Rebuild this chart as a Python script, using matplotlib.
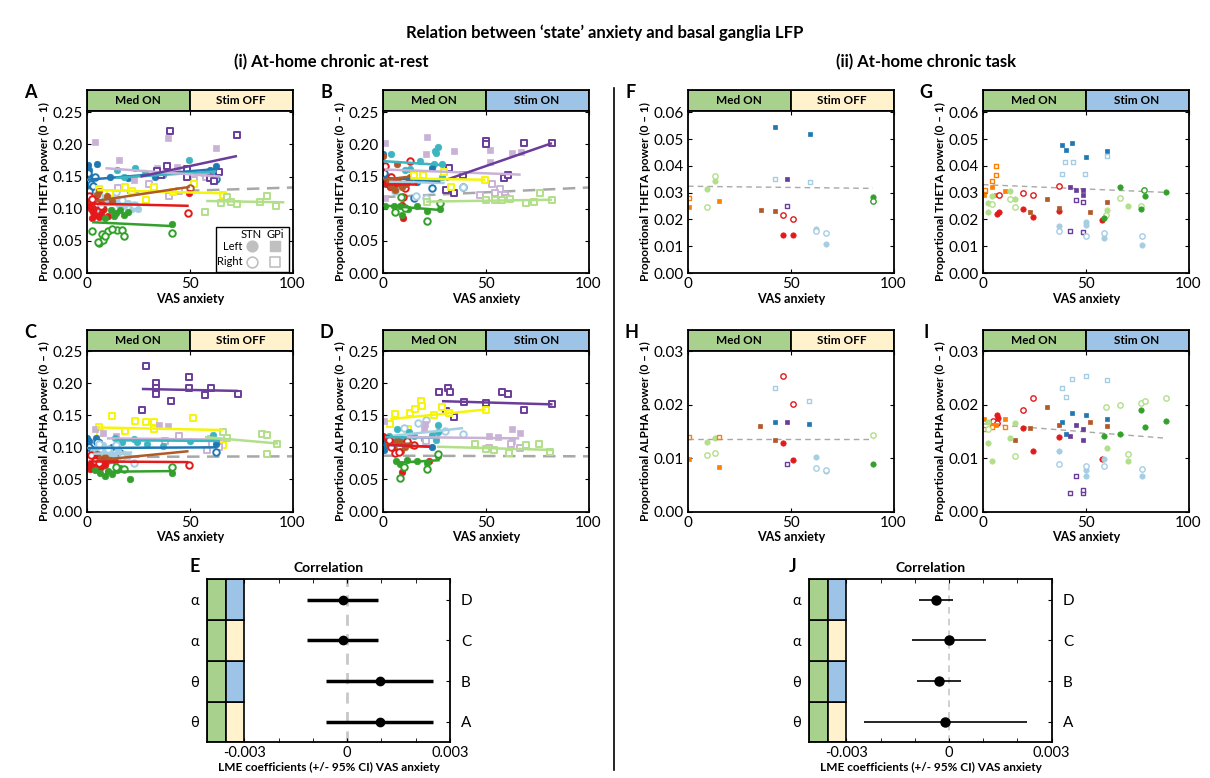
import matplotlib.pyplot as plt
from matplotlib.lines import Line2D
import numpy as np

plt.rcParams['font.family'] = ['Lato', 'DejaVu Sans']

W, H = 1210, 778

PALETTE = {
    'blue': '#1f78b4', 'lblue': '#a6cee3', 'teal': '#3bb5c0',
    'purple': '#6a3d9a', 'lpurple': '#cab2d6', 'yellow': '#f5f50a',
    'brown': '#b15928', 'red': '#e31a1c', 'green': '#33a02c',
    'lgreen': '#b2df8a', 'orange': '#ff7f00',
}
MED_ON = '#a9d18e'
STIM_OFF = '#fff2cc'
STIM_ON = '#9dc3e6'

# ---- (i) at-rest, theta, stim OFF ----
A_pts = [
    ('blue', 'Lc', [0.5, 1, 2, 0.3, 1.5, 5, 11, 20, 33, 58, 60, 63], [0.168, 0.160, 0.150, 0.140, 0.132, 0.170, 0.150, 0.148, 0.150, 0.152, 0.160, 0.166]),
    ('blue', 'Rc', [0.5, 1, 2, 4, 0.2, 1, 3, 63], [0.155, 0.145, 0.138, 0.150, 0.121, 0.128, 0.135, 0.147]),
    ('teal', 'Lc', [14.5, 23.5, 37, 49.5, 28, 18, 62], [0.161, 0.163, 0.152, 0.176, 0.155, 0.150, 0.158]),
    ('lblue', 'Lc', [5, 8, 10, 13, 15, 18, 22, 25, 12, 9, 16, 20, 7], [0.100, 0.105, 0.110, 0.112, 0.108, 0.104, 0.100, 0.099, 0.098, 0.114, 0.115, 0.109, 0.118]),
    ('lblue', 'Rc', [6, 11, 17, 23, 14], [0.118, 0.122, 0.113, 0.106, 0.126]),
    ('lpurple', 'Ls', [4, 15.5, 39.5, 63, 34, 44, 57, 23], [0.204, 0.176, 0.210, 0.194, 0.163, 0.165, 0.155, 0.145]),
    ('lpurple', 'Rs', [15, 30, 40, 52, 58, 45], [0.132, 0.138, 0.120, 0.145, 0.150, 0.128]),
    ('purple', 'Rs', [40.5, 73, 34, 48.5, 48.5, 60, 62, 64, 39, 36], [0.221, 0.214, 0.158, 0.162, 0.150, 0.148, 0.143, 0.157, 0.166, 0.152]),
    ('yellow', 'Rs', [6, 18.5, 28.5, 32.5, 52, 66, 11, 42, 22], [0.130, 0.134, 0.113, 0.134, 0.139, 0.121, 0.124, 0.126, 0.128]),
    ('brown', 'Lc', [5, 9.5, 7.5, 4, 12, 3, 6], [0.121, 0.120, 0.108, 0.103, 0.112, 0.115, 0.128]),
    ('brown', 'Rc', [2, 8, 50], [0.110, 0.100, 0.132]),
    ('red', 'Lc', [1, 2, 3, 4, 5, 6, 7, 8, 2.5, 4.5, 10, 49.5, 1.5, 3], [0.105, 0.100, 0.095, 0.090, 0.108, 0.087, 0.092, 0.100, 0.085, 0.112, 0.088, 0.124, 0.115, 0.098]),
    ('red', 'Rc', [1, 2.5, 5, 7, 49], [0.120, 0.115, 0.108, 0.104, 0.093]),
    ('green', 'Lc', [11.5, 16, 14, 13, 18, 9, 41.5, 20], [0.098, 0.098, 0.093, 0.088, 0.090, 0.085, 0.076, 0.095]),
    ('green', 'Rc', [2.5, 7.5, 6, 8, 5.5, 10, 14.5, 17, 18, 41.5, 12, 9], [0.065, 0.060, 0.046, 0.052, 0.048, 0.065, 0.067, 0.067, 0.058, 0.062, 0.068, 0.057]),
    ('lgreen', 'Rs', [57.5, 68, 73, 84, 87.5, 92, 65, 70], [0.095, 0.118, 0.107, 0.111, 0.120, 0.105, 0.109, 0.110]),
]
A_fits = [
    ('lblue', 5, 25, 0.105, 0.109), ('blue', 0, 64, 0.145, 0.162), ('teal', 14, 63, 0.148, 0.158),
    ('lpurple', 9, 65, 0.163, 0.150), ('purple', 26, 73, 0.150, 0.182), ('yellow', 5, 66, 0.129, 0.124),
    ('brown', 4, 50, 0.112, 0.134), ('red', 1.5, 49.5, 0.108, 0.1045), ('green', 2.5, 41.5, 0.079, 0.073),
    ('lgreen', 58, 96, 0.112, 0.110),
]
A_pop = (0, 100, 0.123, 0.133)

# ---- (i) at-rest, theta, stim ON ----
B_pts = [
    ('lpurple', 'Ls', [0.8, 21.4, 21, 34.4, 51.9, 52.3, 63, 67, 1.1], [0.202, 0.211, 0.185, 0.190, 0.191, 0.173, 0.186, 0.188, 0.116]),
    ('lpurple', 'Rs', [53, 56.7, 59.5, 56, 60, 54.6, 47.3, 3], [0.139, 0.130, 0.122, 0.114, 0.116, 0.124, 0.122, 0.150]),
    ('purple', 'Rs', [50, 50, 68.7, 82, 58.7, 61, 30.8, 34.7, 31.9, 38.9], [0.206, 0.201, 0.203, 0.203, 0.148, 0.152, 0.129, 0.124, 0.163, 0.152]),
    ('teal', 'Lc', [3.9, 18, 25.4, 27, 26, 24.6, 28.7, 28.7, 10.5, 13], [0.185, 0.174, 0.190, 0.196, 0.187, 0.170, 0.170, 0.150, 0.160, 0.162]),
    ('blue', 'Lc', [0, 0.5, 23.8, 16.5, 2, 5], [0.185, 0.160, 0.164, 0.142, 0.150, 0.145]),
    ('blue', 'Rc', [0.3, 23.8, 38.9, 15, 1], [0.155, 0.132, 0.134, 0.116, 0.140]),
    ('lblue', 'Rc', [21, 39, 16, 6], [0.116, 0.134, 0.120, 0.128]),
    ('red', 'Rc', [13, 1.1, 10.9, 9.7, 4, 7], [0.174, 0.166, 0.132, 0.119, 0.150, 0.140]),
    ('red', 'Lc', [9.2, 9.7, 2, 3.6, 1, 6], [0.106, 0.086, 0.139, 0.134, 0.145, 0.140]),
    ('brown', 'Lc', [0, 6.8, 2.8, 6, 9.2, 12.5, 8, 11, 4, 13], [0.182, 0.169, 0.142, 0.129, 0.134, 0.145, 0.140, 0.138, 0.135, 0.150]),
    ('yellow', 'Rs', [15, 19.3, 33, 29.8, 49.8], [0.152, 0.153, 0.134, 0.157, 0.145]),
    ('green', 'Lc', [1.1, 5.2, 8.4, 16.5, 21.4, 27.9, 9.2, 12], [0.105, 0.105, 0.104, 0.105, 0.097, 0.099, 0.091, 0.100]),
    ('green', 'Rc', [10.9, 27.6, 21.4, 8.9, 6], [0.101, 0.109, 0.081, 0.119, 0.095]),
    ('lgreen', 'Rs', [21.4, 50, 54.6, 57.9, 61.9, 69.5, 73.7, 82.2, 76.5], [0.111, 0.114, 0.113, 0.113, 0.115, 0.109, 0.110, 0.113, 0.125]),
]
B_fits = [
    ('lblue', 3, 30, 0.142, 0.140), ('blue', 0, 28, 0.148, 0.143), ('teal', 0.3, 28.7, 0.174, 0.168),
    ('lpurple', 1, 67, 0.161, 0.153), ('purple', 30.8, 82.2, 0.145, 0.202), ('red', 0.3, 16.5, 0.139, 0.139),
    ('brown', 0.3, 13.3, 0.145, 0.150), ('yellow', 13.3, 49.8, 0.147, 0.145), ('green', 0.3, 27.9, 0.105, 0.098),
    ('lgreen', 21, 82.2, 0.111, 0.114),
]
B_pop = (0, 100, 0.118, 0.133)

# ---- (i) at-rest, alpha, stim OFF ----
C_pts = [
    ('purple', 'Rs', [28.6, 33.7, 33.7, 33.7, 40.8, 26.7, 49.7, 49.7, 60.2, 57.4, 73.3], [0.227, 0.201, 0.192, 0.183, 0.172, 0.158, 0.210, 0.193, 0.193, 0.181, 0.183]),
    ('yellow', 'Rs', [6, 12.1, 18.6, 23.5, 28.6, 32.4, 32.7, 51.8, 66.3, 6.5], [0.131, 0.149, 0.126, 0.141, 0.139, 0.140, 0.129, 0.145, 0.104, 0.122]),
    ('lpurple', 'Ls', [34.8, 39.6, 4, 8, 60, 63, 14], [0.135, 0.133, 0.128, 0.122, 0.115, 0.112, 0.118]),
    ('lpurple', 'Rs', [60.7, 58.3, 64, 38, 45], [0.106, 0.096, 0.100, 0.110, 0.118]),
    ('teal', 'Lc', [13.8, 22.7, 24.3, 37.2, 61.5, 17, 29, 50], [0.114, 0.113, 0.109, 0.102, 0.120, 0.108, 0.106, 0.110]),
    ('lgreen', 'Rs', [68, 85, 87.4, 92.7, 87.4, 66], [0.114, 0.121, 0.119, 0.106, 0.090, 0.124]),
    ('blue', 'Lc', [0, 0, 4.5, 12.1, 63, 1, 2, 6], [0.114, 0.106, 0.114, 0.101, 0.106, 0.110, 0.098, 0.108]),
    ('blue', 'Rc', [1, 5, 63, 16, 3], [0.101, 0.108, 0.092, 0.091, 0.096]),
    ('lblue', 'Lc', [3, 5, 7, 9, 11, 13, 15, 18, 20, 8, 12], [0.095, 0.100, 0.090, 0.098, 0.092, 0.088, 0.095, 0.090, 0.086, 0.104, 0.084]),
    ('lblue', 'Rc', [6, 10, 14, 22.7, 17], [0.105, 0.098, 0.103, 0.075, 0.085]),
    ('brown', 'Lc', [4.9, 8.9, 9.7, 13.8, 7, 11, 3], [0.089, 0.085, 0.078, 0.078, 0.082, 0.080, 0.076]),
    ('red', 'Lc', [0.5, 1, 2, 3, 4, 5, 6, 1.5, 2.5, 3.5, 7, 8, 9], [0.080, 0.075, 0.070, 0.078, 0.072, 0.068, 0.074, 0.066, 0.083, 0.085, 0.070, 0.078, 0.072]),
    ('red', 'Rc', [49.4, 1, 2, 4, 6], [0.073, 0.082, 0.088, 0.079, 0.076]),
    ('green', 'Lc', [6.5, 8.9, 14.6, 21, 41.3, 10, 12, 16, 4], [0.060, 0.055, 0.065, 0.050, 0.060, 0.063, 0.058, 0.068, 0.064]),
    ('green', 'Rc', [41.3, 14, 18], [0.070, 0.070, 0.066]),
]
C_fits = [
    ('lblue', 3, 22, 0.090, 0.092), ('purple', 26.7, 73.6, 0.191, 0.188), ('yellow', 4.9, 66, 0.131, 0.127),
    ('lpurple', 9.7, 66.3, 0.114, 0.112), ('teal', 13.8, 64.7, 0.111, 0.110), ('lgreen', 57.4, 93, 0.116, 0.106),
    ('blue', 0, 63, 0.099, 0.100), ('brown', 4.9, 49.4, 0.080, 0.094), ('red', 0.8, 49.4, 0.078, 0.077),
    ('green', 8.9, 41.3, 0.062, 0.063),
]
C_pop = (0, 100, 0.085, 0.086)

# ---- (i) at-rest, alpha, stim ON ----
D_pts = [
    ('purple', 'Rs', [27.2, 31.6, 30.8, 34.4, 39.2, 50, 57.9, 60.6, 68.7, 82.2, 32.7], [0.186, 0.193, 0.157, 0.148, 0.171, 0.169, 0.186, 0.183, 0.159, 0.167, 0.187]),
    ('yellow', 'Rs', [3.6, 6, 13.3, 15.7, 18.5, 19, 28.7, 32, 50, 12, 25], [0.136, 0.152, 0.153, 0.160, 0.173, 0.164, 0.163, 0.153, 0.158, 0.128, 0.150]),
    ('lblue', 'Rc', [21, 38.9, 17, 10, 30], [0.142, 0.121, 0.138, 0.130, 0.126]),
    ('teal', 'Lc', [6.8, 12.5, 27, 27, 26, 3, 9, 15, 20, 24, 1], [0.129, 0.124, 0.135, 0.124, 0.112, 0.118, 0.114, 0.117, 0.113, 0.120, 0.105]),
    ('lpurple', 'Ls', [0.3, 20.6, 51.4, 56.2, 62.7, 66.8, 62.7, 20], [0.141, 0.137, 0.117, 0.116, 0.129, 0.123, 0.110, 0.128]),
    ('lpurple', 'Rs', [51.4, 62.2, 66.8, 21], [0.099, 0.106, 0.099, 0.110]),
    ('lgreen', 'Rs', [44.9, 50, 53.8, 61.1, 69.5, 75.7, 81.4], [0.106, 0.097, 0.096, 0.091, 0.104, 0.105, 0.093]),
    ('blue', 'Lc', [0, 0.3, 23.8, 2], [0.109, 0.096, 0.100, 0.103]),
    ('brown', 'Lc', [2.8, 8.4, 10.9, 12.5, 5.2, 7, 14, 4, 9], [0.104, 0.109, 0.101, 0.106, 0.098, 0.112, 0.104, 0.110, 0.095]),
    ('red', 'Lc', [0, 2, 9.2, 22.2], [0.117, 0.114, 0.062, 0.078]),
    ('red', 'Rc', [2.8, 6, 8, 11.7, 15, 4], [0.112, 0.091, 0.093, 0.110, 0.104, 0.100]),
    ('green', 'Lc', [6.5, 8.4, 11.7, 16.5, 21.4, 27], [0.078, 0.074, 0.080, 0.078, 0.076, 0.086]),
    ('green', 'Rc', [8.4, 21.4, 27, 10], [0.052, 0.066, 0.089, 0.070]),
]
D_fits = [
    ('purple', 28.7, 82.5, 0.172, 0.167), ('yellow', 3.6, 50, 0.144, 0.159), ('lblue', 5, 39, 0.118, 0.130),
    ('teal', 1, 27.6, 0.116, 0.115), ('lpurple', 11.7, 66.3, 0.116, 0.114), ('lgreen', 26.3, 82.2, 0.101, 0.096),
    ('blue', 0.3, 23.8, 0.104, 0.101), ('brown', 1, 14, 0.104, 0.106), ('red', 2, 23, 0.104, 0.101),
    ('green', 6.8, 27.6, 0.076, 0.080),
]
D_pop = (0, 100, 0.087, 0.086)

# ---- (ii) task, theta, stim OFF ----
F_pts = [
    ('blue', 'Ls', [42.1, 59.2], [0.0546, 0.0518]),
    ('lblue', 'Rs', [42.1, 59.2], [0.0351, 0.0338]),
    ('purple', 'Ls', [48], [0.0351]),
    ('purple', 'Rs', [48], [0.0249]),
    ('lgreen', 'Lc', [9.3, 13], [0.0313, 0.0343]),
    ('lgreen', 'Rc', [13, 9.3], [0.0363, 0.0247]),
    ('orange', 'Ls', [0.3, 15], [0.0247, 0.0268]),
    ('orange', 'Rs', [0.3], [0.0281]),
    ('brown', 'Ls', [35.3, 42.1], [0.0235, 0.0232]),
    ('red', 'Rc', [46.3, 51.2], [0.0218, 0.0200]),
    ('red', 'Lc', [46.3, 51.2], [0.0141, 0.0141]),
    ('lblue', 'Lc', [62.1, 67.3], [0.0163, 0.0110]),
    ('lblue', 'Rc', [62.1, 67.3], [0.0158, 0.0151]),
    ('green', 'Lc', [90.2], [0.0284]),
    ('green', 'Rc', [90.2], [0.0269]),
]
F_pop = (0, 90, 0.0324, 0.0316)

# ---- (ii) task, theta, stim ON ----
G_pts = [
    ('blue', 'Ls', [38.2, 40.5, 43.4, 50.2, 60.2], [0.0477, 0.0461, 0.0485, 0.0433, 0.0454]),
    ('lblue', 'Rs', [40.1, 43.7, 38.2, 49.8, 60.2], [0.0413, 0.0413, 0.0371, 0.0371, 0.0438]),
    ('purple', 'Ls', [42.4, 45.3, 48.9, 48.9], [0.0321, 0.0309, 0.0309, 0.0290]),
    ('purple', 'Rs', [45.3, 48.9, 42.4, 48.9], [0.0271, 0.0266, 0.0156, 0.0152]),
    ('lblue', 'Lc', [37.2, 50.2, 50.2, 59.1, 77.2], [0.0177, 0.0189, 0.0178, 0.0131, 0.0106]),
    ('lblue', 'Rc', [37.2, 50.2, 59.1, 77.2], [0.0158, 0.0137, 0.0149, 0.0137]),
    ('orange', 'Rs', [6.1, 4.2, 6.1, 1], [0.0398, 0.0342, 0.0365, 0.0310]),
    ('orange', 'Ls', [0.3, 4.2, 6.1, 10.5], [0.0293, 0.0321, 0.0293, 0.0305]),
    ('red', 'Rc', [7.8, 19.4, 24.3, 37.2], [0.0293, 0.0299, 0.0293, 0.0324]),
    ('red', 'Lc', [6.8, 7.8, 19.4, 24.3, 37.2, 57.9], [0.0222, 0.0227, 0.0240, 0.0209, 0.0233, 0.0197]),
    ('lgreen', 'Lc', [2.4, 2.4, 4.4, 13.3, 15.4, 60.2, 70.4], [0.0261, 0.0227, 0.0286, 0.0307, 0.0278, 0.0237, 0.0251]),
    ('lgreen', 'Rc', [4.5, 13.3, 15.4, 59.9, 66.7, 76.9], [0.0256, 0.0278, 0.0245, 0.0218, 0.0280, 0.0251]),
    ('green', 'Lc', [59.1, 66.8, 76.9, 79, 89], [0.0205, 0.0321, 0.0240, 0.0289, 0.0301]),
    ('green', 'Rc', [78.5], [0.0309]),
    ('brown', 'Ls', [31.1, 23.1, 37.2, 52.3, 60.2], [0.0278, 0.0228, 0.0243, 0.0228, 0.0264]),
]
G_pop = (0, 89, 0.0330, 0.0301)

# ---- (ii) task, alpha, stim OFF ----
H_pts = [
    ('red', 'Rc', [46.2, 51.1], [0.0253, 0.0201]),
    ('red', 'Lc', [46.2, 51.1], [0.0128, 0.0097]),
    ('lblue', 'Rs', [42.1, 58.9], [0.0230, 0.0206]),
    ('blue', 'Ls', [42.1, 58.9], [0.0167, 0.0164]),
    ('purple', 'Ls', [48], [0.0167]),
    ('purple', 'Rs', [48], [0.0089]),
    ('brown', 'Ls', [35, 42.1], [0.0159, 0.0133]),
    ('lgreen', 'Lc', [9.3, 13], [0.0130, 0.0138]),
    ('lgreen', 'Rc', [9.3, 13, 90], [0.0105, 0.0109, 0.0143]),
    ('orange', 'Ls', [0.3, 15], [0.0099, 0.0084]),
    ('orange', 'Rs', [0.3, 15], [0.0139, 0.0139]),
    ('lblue', 'Lc', [62.1, 67.3], [0.0102, 0.0075]),
    ('lblue', 'Rc', [62.1, 67.3], [0.0081, 0.0077]),
    ('green', 'Lc', [90], [0.0089]),
]
H_pop = (0, 90, 0.0136, 0.0136)

# ---- (ii) task, alpha, stim ON ----
I_pts = [
    ('lblue', 'Rs', [43.2, 50.2, 60.2, 38.2, 40.5], [0.0248, 0.0253, 0.0245, 0.0231, 0.0215]),
    ('blue', 'Ls', [38.2, 43.2, 50.2, 60.2, 40.5], [0.0167, 0.0184, 0.0181, 0.0173, 0.0144]),
    ('purple', 'Ls', [45.3, 48.9, 42.4, 48.9], [0.0161, 0.0155, 0.0142, 0.0134]),
    ('purple', 'Rs', [45.3, 42.4, 48.9, 48.9], [0.0066, 0.0034, 0.0035, 0.0040]),
    ('red', 'Rc', [24.3, 19.4, 5, 7], [0.0213, 0.0189, 0.0170, 0.0165]),
    ('red', 'Lc', [6.8, 7.3, 19.4, 24.3, 37.2, 57.9], [0.0181, 0.0175, 0.0156, 0.0113, 0.0139, 0.0099]),
    ('brown', 'Ls', [31.1, 23.1, 37.2, 52.3, 60.2, 15.4], [0.0196, 0.0157, 0.0162, 0.0167, 0.0159, 0.0134]),
    ('orange', 'Ls', [0.3, 4.2, 6.1, 10.5], [0.0173, 0.0162, 0.0162, 0.0173]),
    ('orange', 'Rs', [0.3, 4.5, 10.5], [0.0155, 0.0158, 0.0158]),
    ('lgreen', 'Lc', [2.4, 4.4, 2.4, 13.3, 15.4, 60.2, 70.4], [0.0128, 0.0095, 0.0167, 0.0137, 0.0166, 0.0119, 0.0095]),
    ('lgreen', 'Rc', [2.4, 15.4, 59.9, 66.7, 76.9, 79, 89, 70.4], [0.0155, 0.0104, 0.0195, 0.0200, 0.0203, 0.0206, 0.0213, 0.0108]),
    ('green', 'Lc', [59.1, 66.8, 76.9, 79, 89], [0.0142, 0.0145, 0.0189, 0.0158, 0.0170]),
    ('lblue', 'Lc', [37.2, 50.2, 50.2, 59.1, 77.2], [0.0114, 0.0078, 0.0066, 0.0099, 0.0066]),
    ('lblue', 'Rc', [37.2, 50.2, 59.1, 77.2], [0.0089, 0.0085, 0.0085, 0.0080]),
]
I_pop = (0, 89, 0.0164, 0.0137)

# ---- LME coefficients (rows A, B, C, D from bottom) ----
ROW_NAMES = ['A', 'B', 'C', 'D']
ROW_BAND = ['\u03b8', '\u03b8', '\u03b1', '\u03b1']
ROW_STIM = ['off', 'on', 'off', 'on']
E_est = [0.00095, 0.00095, -0.00013, -0.00013]
E_lo = [-0.00062, -0.00062, -0.00117, -0.00117]
E_hi = [0.00251, 0.00251, 0.00089, 0.00089]
J_est = [-0.000105, -0.00029, 0.0, -0.000388]
J_lo = [-0.00249, -0.00092, -0.00107, -0.000875]
J_hi = [0.00229, 0.00036, 0.00109, 0.000117]


def px_axes(fig, x0, y0, x1, y1):
    return fig.add_axes([x0 / W, 1 - y1 / H, (x1 - x0) / W, (y1 - y0) / H])


def draw_band(fig, x0, x1, y0, y1, stim):
    ax = px_axes(fig, x0, y0, x1, y1)
    ax.barh(0, 50, left=0, height=1, color=MED_ON, edgecolor='k', lw=1.3)
    ax.barh(0, 50, left=50, height=1, color=STIM_ON if stim == 'on' else STIM_OFF, edgecolor='k', lw=1.3)
    ax.text(25, 0, 'Med ON', ha='center', va='center', fontsize=8.5, fontweight='bold')
    ax.text(75, 0, 'Stim ON' if stim == 'on' else 'Stim OFF', ha='center', va='center', fontsize=8.5, fontweight='bold')
    ax.set_xlim(0, 100)
    ax.set_ylim(-0.5, 0.5)
    ax.set_xticks([])
    ax.set_yticks([])
    for s in ax.spines.values():
        s.set_linewidth(1.3)


def draw_scatter(ax, pts, fits, pop, ymax, yticks, ylabel, small):
    ax.plot([pop[0], pop[1]], [pop[2], pop[3]], ls='--', color='#a8a8a8',
            lw=1.0 if small else 1.8, dashes=(4, 3) if small else (5, 3), zorder=1)
    for key, kind, xs, ys in pts:
        c = PALETTE[key]
        marker = 'o' if kind[1] == 'c' else 's'
        if small:
            size = 15 if marker == 'o' else 10
        else:
            size = 22 if marker == 'o' else 16
        if kind[0] == 'L':
            ax.scatter(xs, ys, s=size, marker=marker, facecolors=c, edgecolors=c, linewidths=0.5, zorder=2)
        else:
            ax.scatter(xs, ys, s=size, marker=marker, facecolors='white', edgecolors=c,
                       linewidths=1.0 if small else 1.4, zorder=2)
    for key, x0, x1, y0, y1 in fits:
        ax.plot([x0, x1], [y0, y1], color=PALETTE[key], lw=1.8, solid_capstyle='butt', zorder=3)
    ax.set_xlim(0, 100)
    ax.set_ylim(0, ymax)
    ax.set_xticks([0, 50, 100])
    ax.set_yticks(yticks)
    ax.set_yticklabels(['%.2f' % t for t in yticks])
    ax.tick_params(direction='in', length=3, labelsize=11, top=True, right=True, pad=3)
    for s in ax.spines.values():
        s.set_linewidth(1.3)
    ax.set_xlabel('VAS anxiety', fontsize=9, fontweight='bold', labelpad=1)
    ax.set_ylabel(ylabel, fontsize=8.5, fontweight='bold', labelpad=2)


def draw_legend(ax):
    grey = '#c0c0c0'
    ax.add_patch(plt.Rectangle((0.626, 0.006), 0.358, 0.278, transform=ax.transAxes,
                               facecolor='white', edgecolor='k', lw=1.0, zorder=5))
    ax.text(0.80, 0.238, 'STN', transform=ax.transAxes, ha='center', va='center', fontsize=8, zorder=6)
    ax.text(0.915, 0.238, 'GPi', transform=ax.transAxes, ha='center', va='center', fontsize=8, zorder=6)
    ax.text(0.755, 0.165, 'Left', transform=ax.transAxes, ha='right', va='center', fontsize=8, zorder=6)
    ax.text(0.755, 0.068, 'Right', transform=ax.transAxes, ha='right', va='center', fontsize=8, zorder=6)
    ax.scatter([0.805], [0.165], s=60, marker='o', color=grey, transform=ax.transAxes, zorder=6)
    ax.scatter([0.915], [0.165], s=50, marker='s', color=grey, transform=ax.transAxes, zorder=6)
    ax.scatter([0.805], [0.068], s=60, marker='o', facecolors='white', edgecolors=grey, lw=1.2,
               transform=ax.transAxes, zorder=6)
    ax.scatter([0.915], [0.068], s=50, marker='s', facecolors='white', edgecolors=grey, lw=1.2,
               transform=ax.transAxes, zorder=6)


def draw_forest(ax, est, lo, hi, thick):
    xmin = -0.00408
    strip = 0.00054
    rows = np.arange(len(ROW_NAMES))
    est = np.array(est)
    lo = np.array(lo)
    hi = np.array(hi)
    ax.axvline(0, ls='--', color='#c8c8c8', lw=2.0 if thick else 1.2, dashes=(4, 3), zorder=0)
    ax.barh(rows, strip, left=xmin, height=1, color=MED_ON, edgecolor='k', lw=1.2, zorder=2)
    ax.barh(rows, strip, left=xmin + strip, height=1,
            color=[STIM_ON if s == 'on' else STIM_OFF for s in ROW_STIM], edgecolor='k', lw=1.2, zorder=2)
    ax.errorbar(est, rows, xerr=[est - lo, hi - est], fmt='o', color='k',
                lw=2.5 if thick else 1.2, ms=6 if thick else 6.5, capsize=0, zorder=3)
    ax.set_xlim(xmin, 0.003)
    ax.set_ylim(-0.5, len(ROW_NAMES) - 0.5)
    ax.set_xticks([-0.003, 0, 0.003])
    ax.set_xticklabels(['-0.003', '0', '0.003'])
    ax.set_xticks([-0.002, -0.001, 0.001, 0.002], minor=True)
    ax.set_yticks(rows)
    ax.set_yticklabels(ROW_BAND, fontsize=11)
    ax.tick_params(direction='in', length=3, labelsize=10.5, top=True, pad=3)
    ax.tick_params(which='minor', direction='in', length=3, top=True)
    ax.tick_params(axis='y', length=0, pad=6)
    sec = ax.secondary_yaxis('right')
    sec.set_yticks(rows)
    sec.set_yticklabels(ROW_NAMES, fontsize=11)
    sec.tick_params(direction='in', length=3, pad=8)
    sec.spines['right'].set_visible(False)
    for s in ax.spines.values():
        s.set_linewidth(1.3)
    ax.set_title('Correlation', fontsize=10, fontweight='bold', pad=5)
    ax.set_xlabel('LME coefficients (+/- 95% CI) VAS anxiety', fontsize=8.5, fontweight='bold', labelpad=1)


fig = plt.figure(figsize=(W / 100, H / 100), dpi=100)

fig.text(605 / W, 1 - 33 / H, 'Relation between \u2018state\u2019 anxiety and basal ganglia LFP',
         ha='center', va='center', fontsize=12, fontweight='bold')
fig.text(331 / W, 1 - 62 / H, '(i) At-home chronic at-rest', ha='center', va='center', fontsize=12, fontweight='bold')
fig.text(926 / W, 1 - 62 / H, '(ii) At-home chronic task', ha='center', va='center', fontsize=12, fontweight='bold')
fig.add_artist(Line2D([614 / W, 614 / W], [1 - 88 / H, 1 - 770 / H], color='k', lw=1.2))

col_x = [87, 383, 688, 983]
col_w = 205.5
theta_rest = np.arange(0, 0.26, 0.05)
theta_task = np.arange(0, 0.061, 0.01)
alpha_task = np.arange(0, 0.031, 0.01)
panels = [
    ('A', 0, 'top', 'off', A_pts, A_fits, A_pop, 0.252, theta_rest, 'THETA', False),
    ('B', 1, 'top', 'on', B_pts, B_fits, B_pop, 0.252, theta_rest, 'THETA', False),
    ('F', 2, 'top', 'off', F_pts, [], F_pop, 0.0605, theta_task, 'THETA', True),
    ('G', 3, 'top', 'on', G_pts, [], G_pop, 0.0605, theta_task, 'THETA', True),
    ('C', 0, 'bot', 'off', C_pts, C_fits, C_pop, 0.251, theta_rest, 'ALPHA', False),
    ('D', 1, 'bot', 'on', D_pts, D_fits, D_pop, 0.251, theta_rest, 'ALPHA', False),
    ('H', 2, 'bot', 'off', H_pts, [], H_pop, 0.0301, alpha_task, 'ALPHA', True),
    ('I', 3, 'bot', 'on', I_pts, [], I_pop, 0.0301, alpha_task, 'ALPHA', True),
]
for letter, col, row, stim, pts, fits, pop, ymax, yt, band, small in panels:
    x0 = col_x[col]
    if row == 'top':
        by0, by1, py1 = 90, 111, 273
    else:
        by0, by1, py1 = 329.5, 350.5, 511.5
    draw_band(fig, x0, x0 + col_w, by0, by1, stim)
    ax = px_axes(fig, x0, by1, x0 + col_w, py1)
    draw_scatter(ax, pts, fits, pop, ymax, yt, 'Proportional %s power (0 \u2013 1)' % band, small)
    if letter == 'A':
        draw_legend(ax)
    fig.text((x0 - 57) / W, 1 - (by0 + 3) / H, letter, ha='center', va='center', fontsize=13, fontweight='bold')

axE = px_axes(fig, 207.3, 579.3, 450, 742.3)
draw_forest(axE, E_est, E_lo, E_hi, True)
fig.text(195 / W, 1 - 567 / H, 'E', ha='center', va='center', fontsize=13, fontweight='bold')

axJ = px_axes(fig, 809.3, 579.3, 1051.7, 742.3)
draw_forest(axJ, J_est, J_lo, J_hi, False)
fig.text(793 / W, 1 - 567 / H, 'J', ha='center', va='center', fontsize=13, fontweight='bold')

fig.savefig('out.png', dpi=100)
